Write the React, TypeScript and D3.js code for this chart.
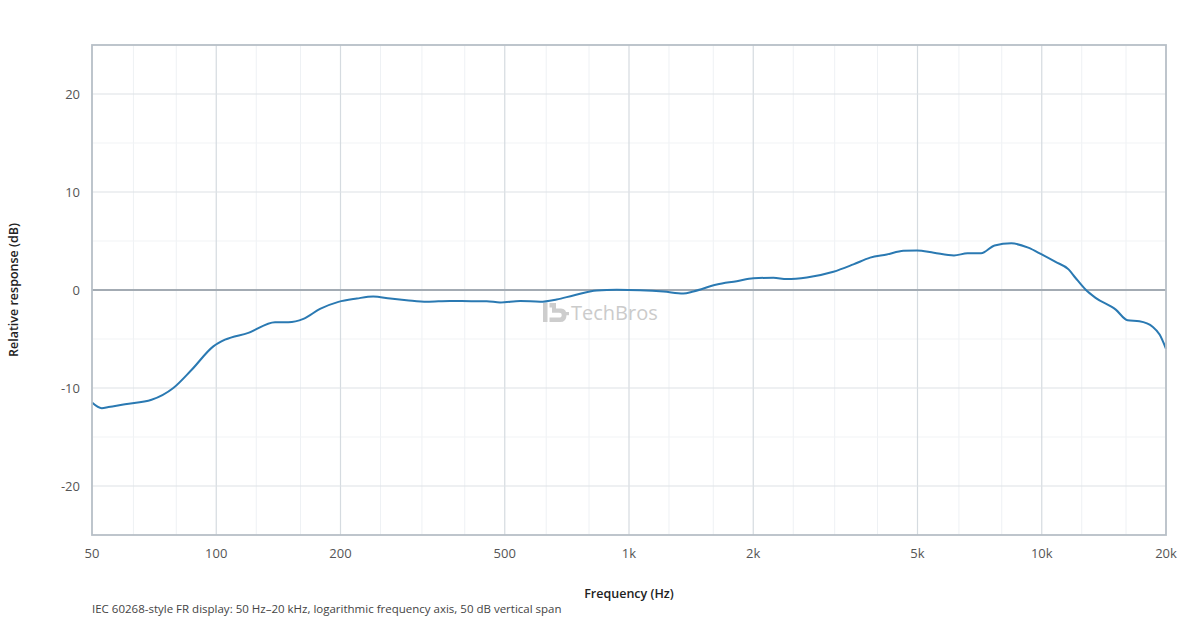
import { useEffect, useRef } from "react";
import * as d3 from "d3";

const freqs = [
  50, 52.8, 54.8, 60.1, 69.7, 78.7, 87.2, 98.4, 105, 119.6, 138.8, 149.5, 162.6,
  178.4, 197.7, 219, 240, 264, 289, 324, 368, 420, 452, 487, 545, 609, 668, 733,
  836, 934, 1064, 1212, 1354, 1432, 1632, 1824, 2002, 2238, 2412, 2697, 3128,
  3497, 3839, 4213, 4621, 4986, 5477, 6129, 6611, 7128, 7686, 8440, 9274, 9997,
  10775, 11615, 12064, 12763, 13503, 15112, 16140, 17240, 18590, 19300, 20000,
];
const levels = [
  -11.48, -12.06, -11.95, -11.65, -11.2, -10.0, -8.14, -5.75, -5.07, -4.38,
  -3.29, -3.29, -2.95, -1.93, -1.21, -0.87, -0.66, -0.87, -1.04, -1.21, -1.11,
  -1.14, -1.14, -1.28, -1.11, -1.21, -0.97, -0.56, -0.05, 0.02, -0.02, -0.15,
  -0.36, -0.15, 0.56, 0.9, 1.21, 1.25, 1.11, 1.28, 1.86, 2.61, 3.3, 3.63, 4.0,
  4.04, 3.8, 3.53, 3.74, 3.74, 4.55, 4.76, 4.32, 3.63, 2.89, 2.1, 1.25, 0.05,
  -0.8, -2.0, -3.09, -3.19, -3.77, -4.55, -6.0,
];

const majorTicks = [50, 100, 200, 500, 1000, 2000, 5000, 10000, 20000];
const majorLabels = ["50", "100", "200", "500", "1k", "2k", "5k", "10k", "20k"];
// 1/3-octave centres used for the fine grid
const thirdOctave = [
  63, 80, 125, 160, 250, 315, 400, 630, 800, 1250, 1600, 2500, 3150, 4000, 6300,
  8000, 12500, 16000,
];
const dbTicks = [-20, -10, 0, 10, 20];
const dbMinor = [-15, -5, 5, 15];

const W = 1200;
const H = 620;
const margin = { top: 45, right: 34, bottom: 85, left: 92 };
const font = "'Open Sans', 'Noto Sans', sans-serif";

export default function App() {
  const svgRef = useRef<SVGSVGElement>(null);

  useEffect(() => {
    if (!svgRef.current) return;
    const svg = d3.select(svgRef.current);
    svg.selectAll("*").remove();

    const x0 = margin.left;
    const x1 = W - margin.right;
    const y0 = margin.top;
    const y1 = H - margin.bottom;

    const x = d3.scaleLog().domain([50, 20000]).range([x0, x1]);
    const y = d3.scaleLinear().domain([-25, 25]).range([y1, y0]);

    const grid = svg.append("g");

    grid
      .selectAll("line.minor-x")
      .data(thirdOctave)
      .join("line")
      .attr("x1", (d) => x(d))
      .attr("x2", (d) => x(d))
      .attr("y1", y0)
      .attr("y2", y1)
      .attr("stroke", "#eef1f4")
      .attr("stroke-width", 1);

    grid
      .selectAll("line.minor-y")
      .data(dbMinor)
      .join("line")
      .attr("x1", x0)
      .attr("x2", x1)
      .attr("y1", (d) => y(d))
      .attr("y2", (d) => y(d))
      .attr("stroke", "#f1f3f5")
      .attr("stroke-width", 1);

    grid
      .selectAll("line.major-x")
      .data(majorTicks.slice(1, -1))
      .join("line")
      .attr("x1", (d) => x(d))
      .attr("x2", (d) => x(d))
      .attr("y1", y0)
      .attr("y2", y1)
      .attr("stroke", "#d5dbe0")
      .attr("stroke-width", 1.2);

    grid
      .selectAll("line.major-y")
      .data(dbTicks.filter((d) => d !== 0))
      .join("line")
      .attr("x1", x0)
      .attr("x2", x1)
      .attr("y1", (d) => y(d))
      .attr("y2", (d) => y(d))
      .attr("stroke", "#dde2e6")
      .attr("stroke-width", 1.2);

    // zero reference
    svg
      .append("line")
      .attr("x1", x0)
      .attr("x2", x1)
      .attr("y1", y(0))
      .attr("y2", y(0))
      .attr("stroke", "#a3abb3")
      .attr("stroke-width", 1.8);

    // watermark
    const wm = svg.append("g").attr("transform", `translate(${x(1000) - 86},${y(0) + 22})`);
    wm.append("rect").attr("x", 0).attr("y", -9).attr("width", 4.5).attr("height", 19).attr("fill", "#cdcdcd");
    wm.append("path")
      .attr("d", "M6.5,-9 L13,-9 L13,-3.5 L18,-3.5 Q23.5,-3.5 23.5,3.2 Q23.5,10 17,10 L6.5,10 L6.5,5.6 L16,5.6 Q18.7,5.6 18.7,3.2 Q18.7,0.8 16,0.8 L9,0.8 L9,-4.5 L6.5,-4.5 Z")
      .attr("fill", "#cdcdcd");
    wm.append("rect").attr("x", 21.5).attr("y", 0).attr("width", 4.5).attr("height", 3.2).attr("fill", "#cdcdcd");
    wm.append("text")
      .attr("x", 28)
      .attr("y", 8)
      .attr("font-family", font)
      .attr("font-size", 20)
      .attr("fill", "#cbcbcb")
      .text("TechBros");

    // response curve
    const pts = freqs.map((f, i) => [f, levels[i]] as [number, number]);
    const line = d3
      .line<[number, number]>()
      .x((d) => x(d[0]))
      .y((d) => y(d[1]))
      .curve(d3.curveMonotoneX);

    svg
      .append("path")
      .datum(pts)
      .attr("fill", "none")
      .attr("stroke", "#2a79b2")
      .attr("stroke-width", 2)
      .attr("stroke-linejoin", "round")
      .attr("d", line);

    // frame
    svg
      .append("rect")
      .attr("x", x0)
      .attr("y", y0)
      .attr("width", x1 - x0)
      .attr("height", y1 - y0)
      .attr("fill", "none")
      .attr("stroke", "#b7bfc7")
      .attr("stroke-width", 1.8);

    // tick labels
    svg
      .selectAll("text.xt")
      .data(majorTicks)
      .join("text")
      .attr("x", (d) => x(d))
      .attr("y", y1 + 23)
      .attr("text-anchor", "middle")
      .attr("font-family", font)
      .attr("font-size", 13)
      .attr("fill", "#555")
      .text((d, i) => majorLabels[i]);

    svg
      .selectAll("text.yt")
      .data(dbTicks)
      .join("text")
      .attr("x", x0 - 12)
      .attr("y", (d) => y(d) + 4.5)
      .attr("text-anchor", "end")
      .attr("font-family", font)
      .attr("font-size", 13)
      .attr("fill", "#555")
      .text((d) => String(d));

    // axis titles
    svg
      .append("text")
      .attr("x", (x0 + x1) / 2)
      .attr("y", 598)
      .attr("text-anchor", "middle")
      .attr("font-family", font)
      .attr("font-size", 12.5)
      .attr("font-weight", 600)
      .attr("fill", "#222")
      .text("Frequency (Hz)");

    svg
      .append("text")
      .attr("transform", `translate(18,${(y0 + y1) / 2}) rotate(-90)`)
      .attr("text-anchor", "middle")
      .attr("font-family", font)
      .attr("font-size", 12.5)
      .attr("font-weight", 600)
      .attr("fill", "#222")
      .text("Relative response (dB)");

    svg
      .append("text")
      .attr("x", x0)
      .attr("y", 613)
      .attr("font-family", font)
      .attr("font-size", 11.5)
      .attr("fill", "#444")
      .text("IEC 60268-style FR display: 50 Hz–20 kHz, logarithmic frequency axis, 50 dB vertical span");
  }, []);

  return (
    <div style={{ position: "fixed", left: 0, top: 0, width: W, height: H, background: "#fff" }}>
      <svg ref={svgRef} width={W} height={H} />
    </div>
  );
}
